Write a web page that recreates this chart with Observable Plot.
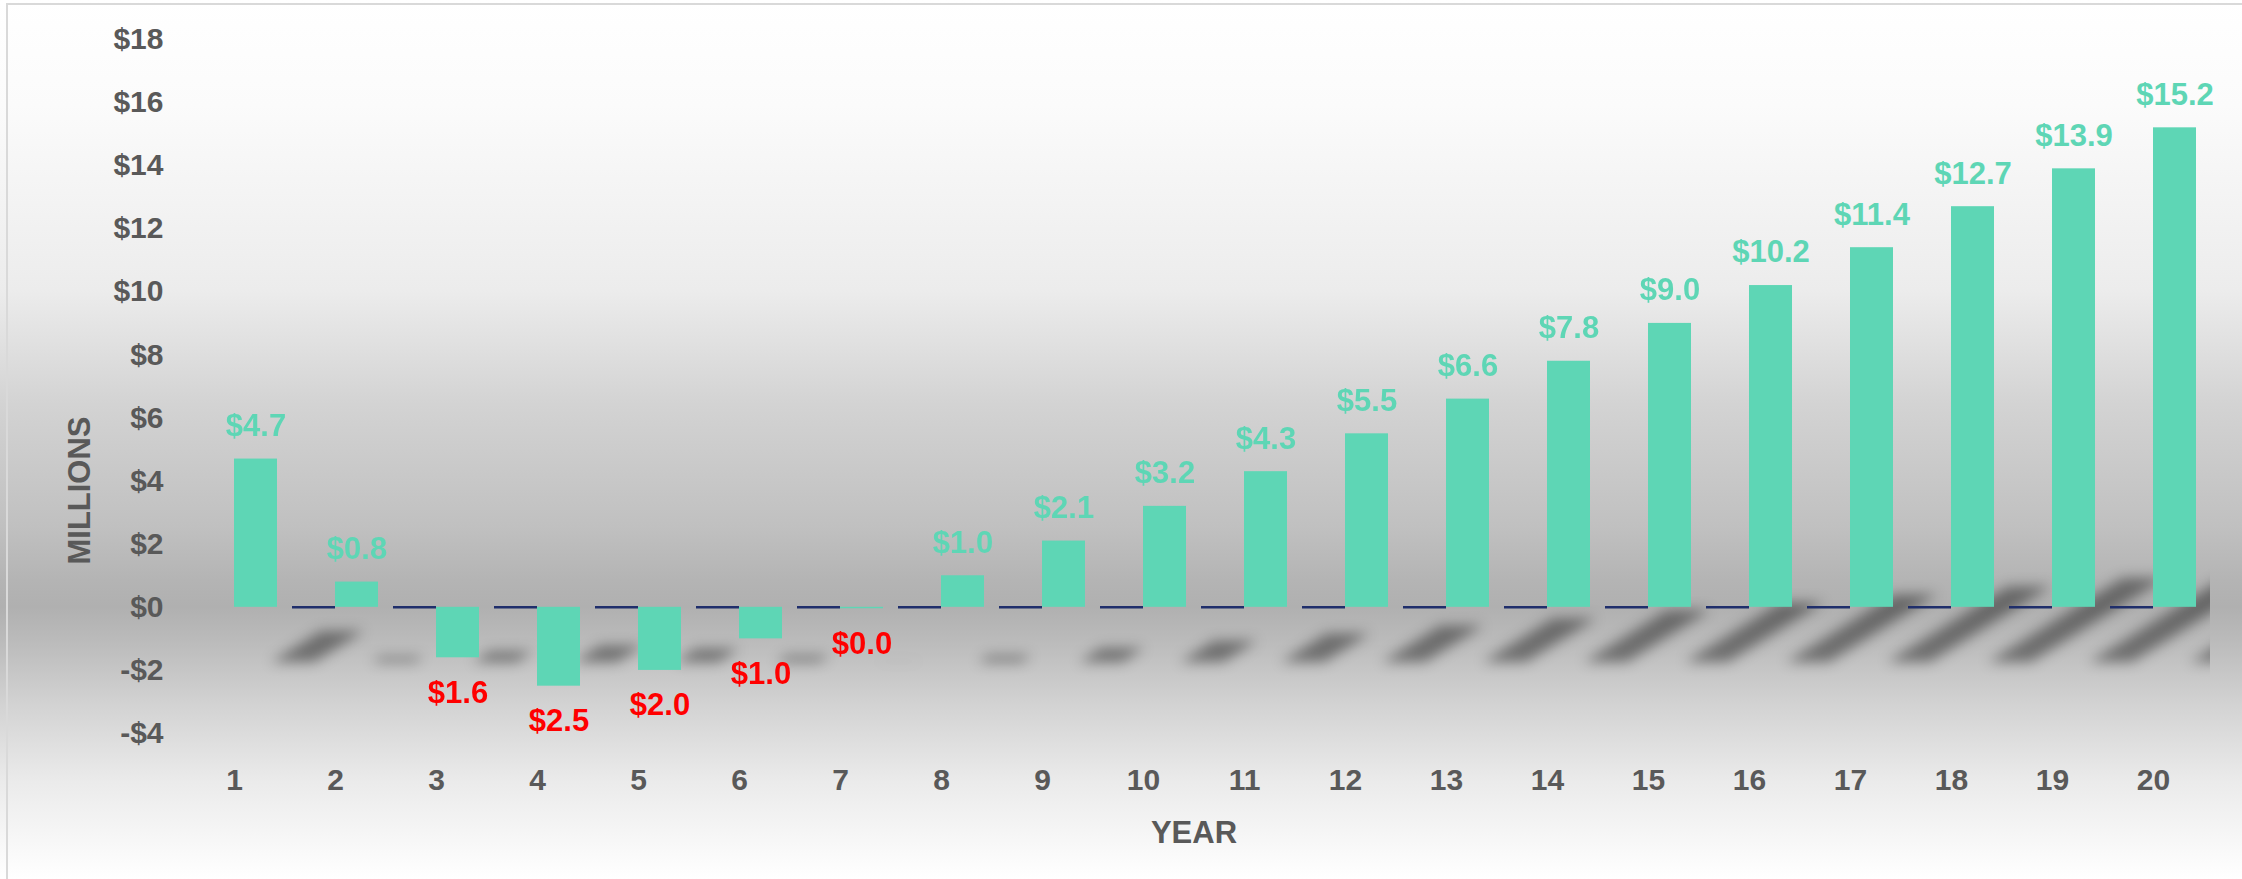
<!DOCTYPE html>
<html>
<head>
<meta charset="utf-8">
<script src="https://cdn.jsdelivr.net/npm/d3@7"></script>
<script src="https://cdn.jsdelivr.net/npm/@observablehq/plot@0.6"></script>
<style>
  html, body { margin: 0; padding: 0; background: #ffffff; }
  #wrap { position: relative; width: 2242px; height: 879px; overflow: hidden; }
  #border { position: absolute; left: 6px; top: 3px; right: -10px; bottom: -10px;
            border-left: 2px solid #d9d9d9; border-top: 2px solid #d9d9d9; pointer-events: none; }
  svg text { font-family: "Liberation Sans", Arial, sans-serif; font-weight: bold; }
  g[aria-label="y-axis label"] text, g[aria-label="fx-axis label"] text { font-size: 31px; }
</style>
</head>
<body>
<div id="wrap"><div id="border"></div></div>
<script>
// ---- data ----
const years = [1, 2, 3, 4, 5, 6, 7, 8, 9, 10, 11, 12, 13, 14, 15, 16, 17, 18, 19, 20];
const netValues = [4.7, 0.8, -1.6, -2.5, -2.0, -1.0, -0.045, 1.0, 2.1, 3.2, 4.3, 5.5, 6.6, 7.8, 9.0, 10.2, 11.4, 12.7, 13.9, 15.2];
const baseValues = [null, 0, 0, 0, 0, 0, 0, 0, 0, 0, 0, 0, 0, 0, 0, 0, 0, 0, 0, 0];
const seriesNames = ["base", "net"];
const yTickValues = [-4, -2, 0, 2, 4, 6, 8, 10, 12, 14, 16, 18];

// ---- tables ----
const netRows = years.map((y, i) => ({year: y, series: "net", value: netValues[i]}));
const baseRows = years.map((y, i) => ({year: y, series: "base", value: baseValues[i]})).filter(d => d.value != null);
const shadowFloor = -1.75, shadowRatio = 0.21;
const shadowRows = netRows.map(d => ({year: d.year, series: d.series, y1: shadowFloor, y2: shadowFloor + shadowRatio * Math.abs(d.value)}));

const teal = "#5ed6b5";
const shadowKey = "#010101";
const W = 2242, H = 879, ML = 173, MR = 28, MT = 39, MB = 146;

const svg = Plot.plot({
  width: W,
  height: H,
  marginLeft: ML,
  marginRight: MR,
  marginTop: MT,
  marginBottom: MB,
  style: {
    fontSize: "30px",
    fontFamily: "'Liberation Sans', Arial, sans-serif",
    fontWeight: "bold",
    color: "#595959",
    overflow: "visible",
    background: "linear-gradient(to bottom, #ffffff 0%, #fbfbfb 12%, #ececec 33%, #d3d3d3 46%, #c0c0c0 60%, #b4b4b4 66%, #b0b0b0 69%, #bbbbbb 73%, #d2d2d2 80%, #ebebeb 89%, #ffffff 100%)"
  },
  fx: {
    domain: years,
    paddingInner: 0.148,
    paddingOuter: 0.148,
    label: "YEAR",
    labelAnchor: "center",
    labelOffset: 109,
    tickSize: 0,
    tickPadding: 35
  },
  x: {domain: seriesNames, padding: 0, axis: null},
  y: {
    domain: [-4, 18],
    ticks: yTickValues,
    tickFormat: d => d < 0 ? "-$" + (-d) : "$" + d,
    tickSize: 0,
    tickPadding: 28,
    label: "MILLIONS",
    labelAnchor: "center",
    labelArrow: "none",
    labelOffset: 120
  },
  marks: [
    Plot.barY(shadowRows, {fx: "year", x: "series", y1: "y1", y2: "y2", fill: shadowKey, dx: 37}),
    Plot.tickY(baseRows, {fx: "year", x: "series", y: "value", stroke: "#1f2e6b", strokeWidth: 2.5}),
    Plot.barY(netRows, {fx: "year", x: "series", y: "value", fill: teal}),
    Plot.text(netRows.filter(d => d.value >= 0), {fx: "year", x: "series", y: "value",
      text: d => "$" + d.value.toFixed(1), dy: -33, fill: teal, fontSize: 31, fontWeight: "bold"}),
    Plot.text(netRows.filter(d => d.value < 0), {fx: "year", x: "series", y: "value",
      text: d => "$" + Math.abs(d.value).toFixed(1), dy: 35, fill: "#ff0000", fontSize: 31, fontWeight: "bold"})
  ]
});

document.getElementById("wrap").insertBefore(svg, document.getElementById("border"));
svg.style.position = "absolute";
svg.style.left = "0px";
svg.style.top = "0px";

// ---- move the y-axis title down to where the reference has it ----
svg.querySelectorAll("text").forEach(t => {
  if (t.textContent.trim() === "MILLIONS") {
    t.setAttribute("transform", "translate(-4,104) " + (t.getAttribute("transform") || ""));
  }
});

// ---- shadow styling: skew + blur, gathered into one layer behind the bars ----
const ns = "http://www.w3.org/2000/svg";
const defs = document.createElementNS(ns, "defs");
defs.innerHTML = `
  <filter id="shadowBlur" filterUnits="userSpaceOnUse" x="0" y="0" width="${W}" height="${H}">
    <feGaussianBlur stdDeviation="6.5"/>
  </filter>
  <clipPath id="shadowClip" clipPathUnits="userSpaceOnUse">
    <rect x="${ML}" y="0" width="${W - ML - MR - 4}" height="${H}"/>
  </clipPath>`;
svg.insertBefore(defs, svg.firstChild);

const layer = document.createElementNS(ns, "g");
layer.setAttribute("clip-path", "url(#shadowClip)");
const inner = document.createElementNS(ns, "g");
inner.setAttribute("filter", "url(#shadowBlur)");
inner.setAttribute("fill", "#000000");
inner.setAttribute("fill-opacity", "0.42");
layer.appendChild(inner);

const shadowRects = Array.from(svg.querySelectorAll("rect")).filter(r => {
  const own = (r.getAttribute("fill") || "").toLowerCase();
  const grp = r.closest("[fill]");
  const inh = grp ? (grp.getAttribute("fill") || "").toLowerCase() : "";
  return own === shadowKey || (!own && inh === shadowKey);
});

const svgCTM = svg.getScreenCTM();
shadowRects.forEach(r => {
  const m = svgCTM.inverse().multiply(r.getScreenCTM());
  const x = +r.getAttribute("x") + m.e;
  const y = +r.getAttribute("y") + m.f;
  const w = +r.getAttribute("width");
  const h = +r.getAttribute("height");
  const yb = y + h;
  const nr = document.createElementNS(ns, "rect");
  nr.setAttribute("x", x);
  nr.setAttribute("y", y);
  nr.setAttribute("width", w);
  nr.setAttribute("height", h);
  nr.setAttribute("transform", `translate(${x},${yb}) skewX(-58) translate(${-x},${-yb})`);
  inner.appendChild(nr);
});

if (shadowRects.length) {
  let anchor = shadowRects[0];
  while (anchor.parentNode && anchor.parentNode !== svg) anchor = anchor.parentNode;
  const firstFacet = svg.querySelector('g[aria-label="facet"]');
  if (firstFacet) { let f = firstFacet; while (f.parentNode && f.parentNode !== svg) f = f.parentNode; anchor = f; }
  svg.insertBefore(layer, anchor);
  shadowRects.forEach(r => r.remove());
}
</script>
</body>
</html>
